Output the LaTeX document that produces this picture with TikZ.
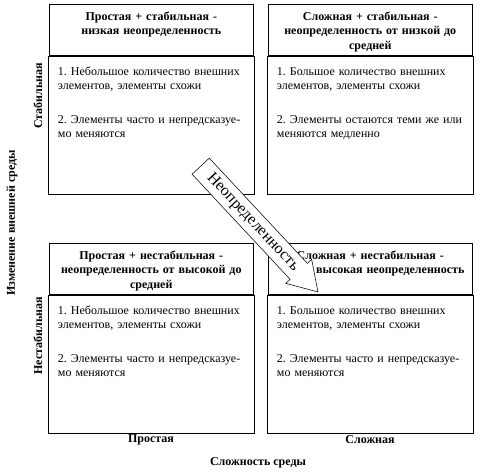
\documentclass[tikz,border=0pt]{standalone}
\usepackage{fontspec}
\setmainfont{Liberation Serif}
\usetikzlibrary{positioning,shapes.arrows}

\tikzset{
  head/.style={draw, anchor=north west, text width=147pt, inner xsep=3pt, inner ysep=5pt,
    text height=7pt, text depth=21.25pt, align=center, font=\bfseries\fontsize{9}{11}\selectfont},
  body/.style={draw, text width=140pt, inner xsep=7.5pt, inner ysep=8pt,
    text height=7pt, text depth=80.5pt, align=left, font=\fontsize{9}{10.5}\selectfont},
  lab/.style={font=\bfseries\fontsize{9}{11}\selectfont, inner sep=0pt},
  uncarrow/.style={single arrow, draw, fill=white, minimum height=129pt,
    single arrow head extend=4.4pt, single arrow tip angle=64, inner xsep=2pt, inner ysep=0pt,
    text height=11.5pt, text depth=5.75pt, font=\fontsize{12}{14}\selectfont}
}

\begin{document}
\begin{tikzpicture}[x=0.75pt, y=-0.75pt]
  \frenchspacing
  \useasboundingbox (0,0) rectangle (484,473);
  % quadrants
  \node[head] (slh) at (49,4) {Простая + стабильная -\\низкая неопределенность};
  \node[body, below=0pt of slh] (slb) {1. Небольшое количество внешних\\элементов, элементы схожи\\[15pt]2. Элементы часто и непредсказуе-\\мо меняются};
  \node[head] (csh) at (268,4) {Сложная + стабильная -\\неопределенность от низкой до\\средней};
  \node[body, below=0pt of csh] (csb) {1. Большое количество внешних\\элементов, элементы схожи\\[15pt]2. Элементы остаются теми же или\\меняются медленно};
  \node[head] (snh) at (49,243) {Простая + нестабильная -\\неопределенность от высокой до\\средней};
  \node[body, below=0pt of snh] (snb) {1. Небольшое количество внешних\\элементов, элементы схожи\\[15pt]2. Элементы часто и непредсказуе-\\мо меняются};
  \node[head] (cnh) at (268,243) {Сложная + нестабильная -\\\hspace*{30pt}высокая неопределенность};
  \node[body, below=0pt of cnh] (cnb) {1. Большое количество внешних\\элементов, элементы схожи\\[15pt]2. Элементы часто и непредсказуе-\\мо меняются};
  % axes labels
  \node[lab] (simple) at (151,440) {Простая};
  \node[lab] (complex) at (370,440) {Сложная};
  \node[lab] (cmplx) at (258,463) {Сложность среды};
  \node[lab, rotate=90] (stable) at (38,96) {Стабильная};
  \node[lab, rotate=90] (unstable) at (38,336) {Нестабильная};
  \node[lab, rotate=90] (change) at (12,223) {Изменение внешней среды};
  % uncertainty arrow
  \node[uncarrow, anchor=tail, rotate=-47] (unc) at (200.5,166) {Неопределенность};
\end{tikzpicture}
\end{document}
